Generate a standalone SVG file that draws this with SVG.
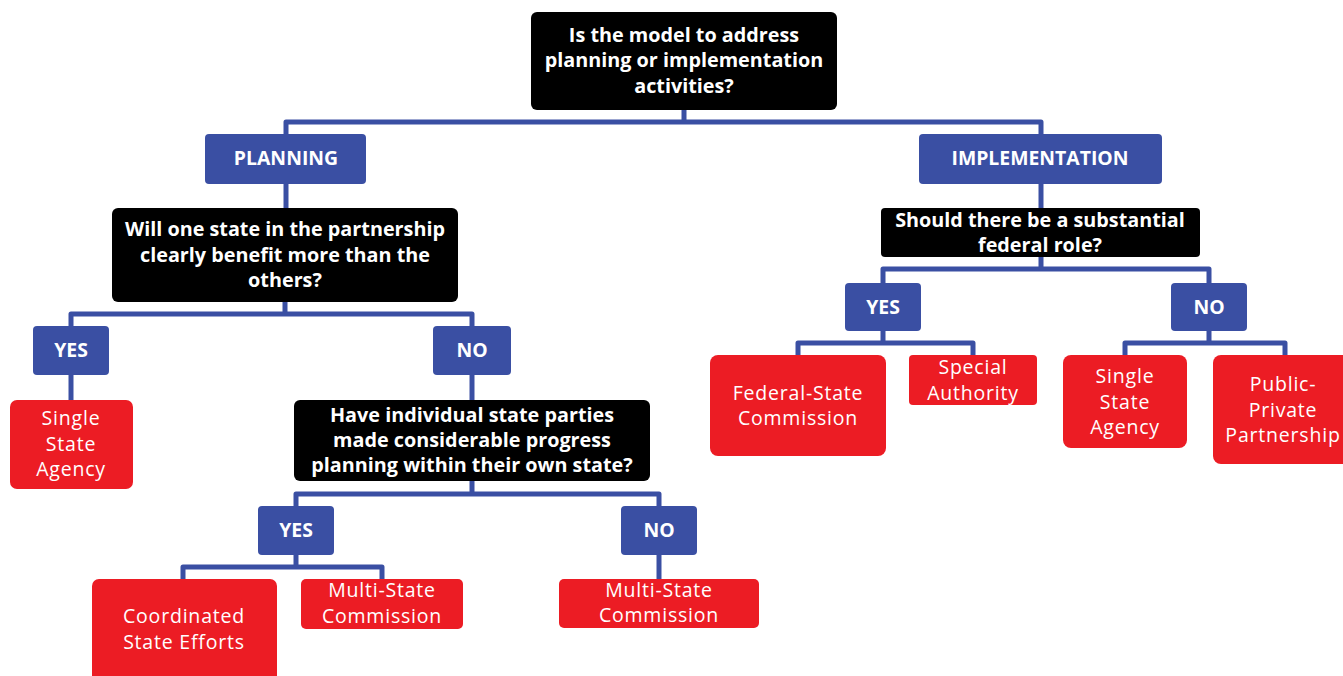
<svg xmlns="http://www.w3.org/2000/svg" width="1343" height="676" viewBox="0 0 1343 676">
  <style>
    .q { fill: #000000; }
    .lbl { fill: #3a4fa3; }
    .out { fill: #ec1c24; }
    .qt { font-family: "Open Sans", "DejaVu Sans", sans-serif; font-weight: 700; font-size: 19.8px; fill: #ffffff; text-anchor: middle; }
    .lt { font-family: "Open Sans", "DejaVu Sans", sans-serif; font-weight: 700; font-size: 19.4px; fill: #ffffff; text-anchor: middle; }
    .ot { font-family: "Open Sans", "DejaVu Sans", sans-serif; font-weight: 400; font-size: 19.5px; fill: #ffffff; text-anchor: middle; letter-spacing: 0.8px; }
    .wire { fill: none; stroke: #3a4fa3; stroke-width: 5; stroke-linejoin: round; }
  </style>

  <rect width="1343" height="676" fill="#ffffff"/>

  <!-- connectors -->
  <g id="connectors">
    <path class="wire" d="M684,110 V122 M286,134 V122 H1041 V134"/>
    <path class="wire" d="M286,184 V208"/>
    <path class="wire" d="M1041,184 V208"/>
    <path class="wire" d="M285,301 V314 M71,326 V314 H472 V326"/>
    <path class="wire" d="M71,375 V400"/>
    <path class="wire" d="M472,375 V400"/>
    <path class="wire" d="M472,481 V494 M296,506 V494 H659 V506"/>
    <path class="wire" d="M296,555 V567 M183,579 V567 H382 V579"/>
    <path class="wire" d="M659,555 V579"/>
    <path class="wire" d="M1041,257 V269 M883,283 V269 H1209 V283"/>
    <path class="wire" d="M883,331 V343 M798,355 V343 H973 V355"/>
    <path class="wire" d="M1209,331 V343 M1125,355 V343 H1285 V355"/>
  </g>

  <!-- root question -->
  <g id="q-root">
    <rect class="q" x="531" y="12" width="306" height="98" rx="6"/>
    <text class="qt" x="684" y="42">Is the model to address</text>
    <text class="qt" x="684" y="67">planning or implementation</text>
    <text class="qt" x="684" y="93">activities?</text>
  </g>

  <g id="planning">
    <rect class="lbl" x="205" y="134" width="161" height="50" rx="4"/>
    <text class="lt" x="286" y="165">PLANNING</text>
  </g>

  <g id="implementation">
    <rect class="lbl" x="919" y="134" width="243" height="50" rx="4"/>
    <text class="lt" x="1040" y="165">IMPLEMENTATION</text>
  </g>

  <!-- planning branch -->
  <g id="q-benefit">
    <rect class="q" x="112" y="208" width="346" height="94" rx="6"/>
    <text class="qt" x="285" y="236">Will one state in the partnership</text>
    <text class="qt" x="285" y="262">clearly benefit more than the</text>
    <text class="qt" x="285" y="287">others?</text>
  </g>

  <g id="plan-yes">
    <rect class="lbl" x="33" y="326" width="76" height="49" rx="4"/>
    <text class="lt" x="71" y="357">YES</text>
  </g>

  <g id="plan-no">
    <rect class="lbl" x="433" y="326" width="78" height="49" rx="4"/>
    <text class="lt" x="472" y="357">NO</text>
  </g>

  <g id="single-state-agency-1">
    <rect class="out" x="10" y="400" width="123" height="89" rx="7"/>
    <text class="ot" x="71" y="425">Single</text>
    <text class="ot" x="71" y="451">State</text>
    <text class="ot" x="71" y="476">Agency</text>
  </g>

  <g id="q-progress">
    <rect class="q" x="294" y="400" width="356" height="81" rx="6"/>
    <text class="qt" x="472" y="422">Have individual state parties</text>
    <text class="qt" x="472" y="447">made considerable progress</text>
    <text class="qt" x="472" y="472">planning within their own state?</text>
  </g>

  <g id="progress-yes">
    <rect class="lbl" x="258" y="506" width="76" height="49" rx="4"/>
    <text class="lt" x="296" y="537">YES</text>
  </g>

  <g id="progress-no">
    <rect class="lbl" x="621" y="506" width="76" height="49" rx="4"/>
    <text class="lt" x="659" y="537">NO</text>
  </g>

  <g id="coordinated-state-efforts">
    <rect class="out" x="92" y="579" width="185" height="110" rx="7"/>
    <text class="ot" x="184" y="623">Coordinated</text>
    <text class="ot" x="184" y="649">State Efforts</text>
  </g>

  <g id="multi-state-commission-1">
    <rect class="out" x="301" y="579" width="162" height="50" rx="5"/>
    <text class="ot" x="382" y="597">Multi-State</text>
    <text class="ot" x="382" y="623">Commission</text>
  </g>

  <g id="multi-state-commission-2">
    <rect class="out" x="559" y="579" width="200" height="49" rx="5"/>
    <text class="ot" x="659" y="597">Multi-State</text>
    <text class="ot" x="659" y="622">Commission</text>
  </g>

  <!-- implementation branch -->
  <g id="q-federal">
    <rect class="q" x="881" y="208" width="319" height="49" rx="4"/>
    <text class="qt" x="1040" y="227">Should there be a substantial</text>
    <text class="qt" x="1040" y="252">federal role?</text>
  </g>

  <g id="impl-yes">
    <rect class="lbl" x="845" y="283" width="76" height="48" rx="4"/>
    <text class="lt" x="883" y="314">YES</text>
  </g>

  <g id="impl-no">
    <rect class="lbl" x="1171" y="283" width="76" height="48" rx="4"/>
    <text class="lt" x="1209" y="314">NO</text>
  </g>

  <g id="federal-state-commission">
    <rect class="out" x="710" y="355" width="176" height="101" rx="8"/>
    <text class="ot" x="798" y="400">Federal-State</text>
    <text class="ot" x="798" y="425">Commission</text>
  </g>

  <g id="special-authority">
    <rect class="out" x="909" y="355" width="128" height="50" rx="4"/>
    <text class="ot" x="973" y="374">Special</text>
    <text class="ot" x="973" y="400">Authority</text>
  </g>

  <g id="single-state-agency-2">
    <rect class="out" x="1063" y="355" width="124" height="93" rx="8"/>
    <text class="ot" x="1125" y="383">Single</text>
    <text class="ot" x="1125" y="409">State</text>
    <text class="ot" x="1125" y="434">Agency</text>
  </g>

  <g id="public-private-partnership">
    <rect class="out" x="1213" y="355" width="140" height="109" rx="8"/>
    <text class="ot" x="1283" y="391">Public-</text>
    <text class="ot" x="1283" y="417">Private</text>
    <text class="ot" x="1283" y="442">Partnership</text>
  </g>
</svg>
